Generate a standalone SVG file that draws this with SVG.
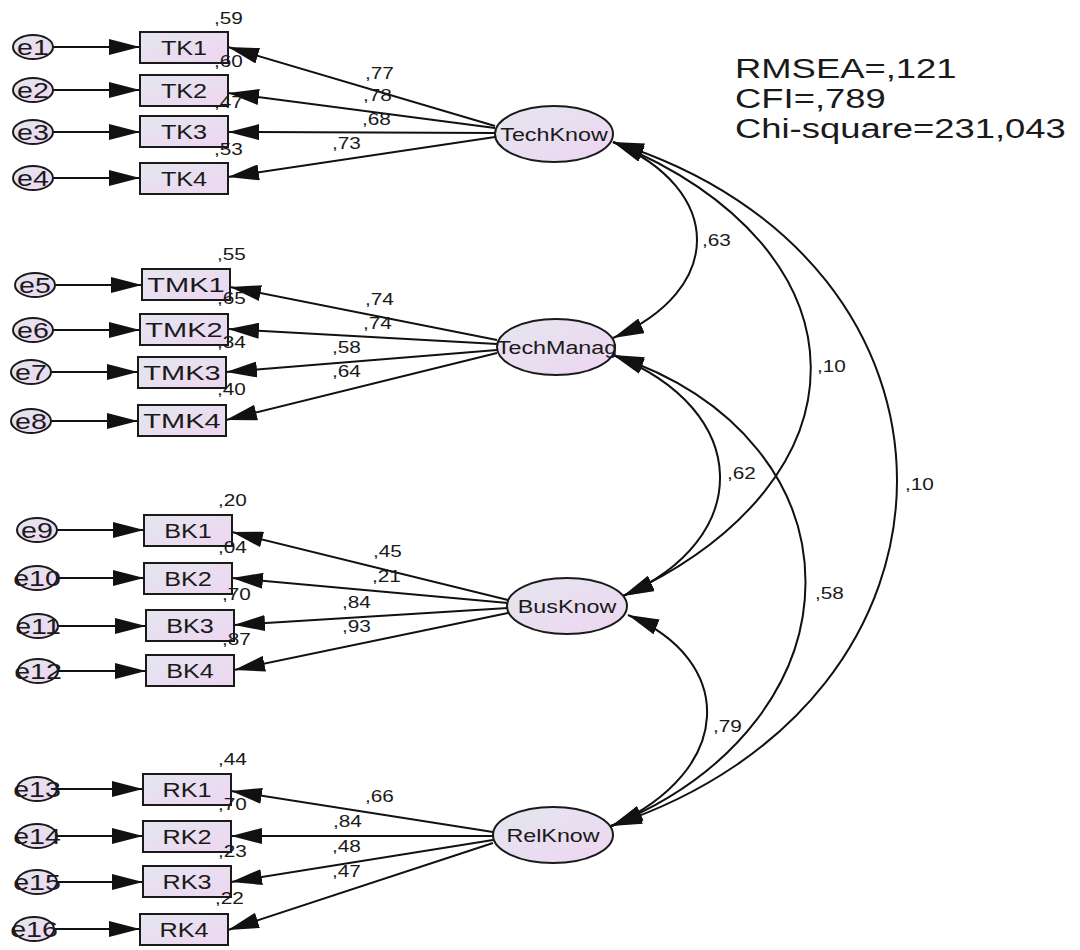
<svg xmlns="http://www.w3.org/2000/svg" width="1080" height="950" viewBox="0 0 1080 950">
  <defs>
    <linearGradient id="g" x1="0" y1="0" x2="1" y2="1">
      <stop offset="0" stop-color="#e4e6ef"/>
      <stop offset="1" stop-color="#eed6f1"/>
    </linearGradient>
    <marker id="ah" markerUnits="userSpaceOnUse" viewBox="0 0 31 16" markerWidth="31" markerHeight="16" refX="31" refY="8" orient="auto-start-reverse">
      <path d="M0,0 L31,8 L0,16 z" fill="#111"/>
    </marker>
    <style>
      .n rect, .n ellipse { fill: url(#g); stroke: #1a1a1a; stroke-width: 2; }
      .c line, .c path { stroke: #111; stroke-width: 2; fill: none; marker-end: url(#ah); }
      .c .cov { marker-start: url(#ah); }
      text { font-family: "Liberation Sans", Arial, sans-serif; fill: #1a1a1a; }
      .num { font-size: 16.5px; }
      .bx { font-size: 21px; text-anchor: middle; }
      .er { font-size: 22px; text-anchor: middle; }
      .lv { font-size: 18.5px; text-anchor: middle; }
      .st { font-size: 28px; }
    </style>
  </defs>

  <!-- connectors: error terms, loadings, covariances -->
  <g id="connectors" class="c">
    <line x1="53" y1="47" x2="140" y2="47"/>
    <line x1="53" y1="90" x2="140" y2="90"/>
    <line x1="53" y1="132" x2="140" y2="132"/>
    <line x1="53" y1="178" x2="140" y2="178"/>
    <line x1="55" y1="285" x2="142" y2="285"/>
    <line x1="53" y1="330" x2="140" y2="330"/>
    <line x1="51" y1="372" x2="138" y2="372"/>
    <line x1="51" y1="421" x2="138" y2="421"/>
    <line x1="57" y1="530" x2="144" y2="530"/>
    <line x1="57" y1="578" x2="144" y2="578"/>
    <line x1="58" y1="626" x2="146" y2="626"/>
    <line x1="58" y1="671" x2="146" y2="671"/>
    <line x1="57" y1="789" x2="143" y2="789"/>
    <line x1="57" y1="836" x2="143" y2="836"/>
    <line x1="57" y1="882" x2="143" y2="882"/>
    <line x1="54" y1="929" x2="140" y2="929"/>

    <line x1="495" y1="126" x2="228" y2="47"/>
    <line x1="495" y1="128" x2="228" y2="93"/>
    <line x1="495" y1="133" x2="228" y2="132"/>
    <line x1="495" y1="137" x2="228" y2="177"/>
    <line x1="497" y1="340" x2="230" y2="287"/>
    <line x1="497" y1="344" x2="228" y2="329"/>
    <line x1="497" y1="350" x2="226" y2="372"/>
    <line x1="497" y1="353" x2="226" y2="420"/>
    <line x1="508" y1="600" x2="232" y2="532"/>
    <line x1="508" y1="603" x2="232" y2="578"/>
    <line x1="508" y1="608" x2="234" y2="625"/>
    <line x1="508" y1="613" x2="234" y2="670"/>
    <line x1="493" y1="832" x2="231" y2="791"/>
    <line x1="493" y1="836" x2="231" y2="836"/>
    <line x1="493" y1="840" x2="231" y2="882"/>
    <line x1="493" y1="843" x2="228" y2="930"/>

    <path class="cov" d="M613,142 C725,190 725,290 613,338"/>
    <path class="cov" d="M613,142 C875,250 875,480 623,596"/>
    <path class="cov" d="M613,142 C992,260 992,700 611,826"/>
    <path class="cov" d="M613,355 C754,410 754,540 623,596"/>
    <path class="cov" d="M613,355 C870,440 870,720 611,826"/>
    <path class="cov" d="M628,615 C736,660 736,770 612,826"/>
  </g>

  <!-- covariance and loading estimates -->
  <g id="estimates" class="num">
    <text transform="matrix(1.26 0 0 1 365 79)">,77</text>
    <text transform="matrix(1.26 0 0 1 363 101)">,78</text>
    <text transform="matrix(1.26 0 0 1 362 125)">,68</text>
    <text transform="matrix(1.26 0 0 1 332 149)">,73</text>
    <text transform="matrix(1.26 0 0 1 365 305)">,74</text>
    <text transform="matrix(1.26 0 0 1 363 329)">,74</text>
    <text transform="matrix(1.26 0 0 1 332 353)">,58</text>
    <text transform="matrix(1.26 0 0 1 332 377)">,64</text>
    <text transform="matrix(1.26 0 0 1 373 557)">,45</text>
    <text transform="matrix(1.26 0 0 1 372 582)">,21</text>
    <text transform="matrix(1.26 0 0 1 342 608)">,84</text>
    <text transform="matrix(1.26 0 0 1 342 632)">,93</text>
    <text transform="matrix(1.26 0 0 1 365 802)">,66</text>
    <text transform="matrix(1.26 0 0 1 333 827)">,84</text>
    <text transform="matrix(1.26 0 0 1 332 852)">,48</text>
    <text transform="matrix(1.26 0 0 1 332 877)">,47</text>

    <text transform="matrix(1.26 0 0 1 702 246)">,63</text>
    <text transform="matrix(1.26 0 0 1 817 372)">,10</text>
    <text transform="matrix(1.26 0 0 1 905 490)">,10</text>
    <text transform="matrix(1.26 0 0 1 727 479)">,62</text>
    <text transform="matrix(1.26 0 0 1 815 599)">,58</text>
    <text transform="matrix(1.26 0 0 1 713 732)">,79</text>
  </g>

  <!-- error terms -->
  <g id="e1" class="n"><ellipse cx="33" cy="47" rx="20" ry="12"/><text class="er" transform="matrix(1.3 0 0 1 33 55)">e1</text></g>
  <g id="e2" class="n"><ellipse cx="33" cy="90" rx="20" ry="12"/><text class="er" transform="matrix(1.3 0 0 1 33 98)">e2</text></g>
  <g id="e3" class="n"><ellipse cx="33" cy="132" rx="20" ry="12"/><text class="er" transform="matrix(1.3 0 0 1 33 140)">e3</text></g>
  <g id="e4" class="n"><ellipse cx="33" cy="178" rx="20" ry="12"/><text class="er" transform="matrix(1.3 0 0 1 33 186)">e4</text></g>
  <g id="e5" class="n"><ellipse cx="35" cy="285" rx="20" ry="12"/><text class="er" transform="matrix(1.3 0 0 1 35 293)">e5</text></g>
  <g id="e6" class="n"><ellipse cx="33" cy="330" rx="20" ry="12"/><text class="er" transform="matrix(1.3 0 0 1 33 338)">e6</text></g>
  <g id="e7" class="n"><ellipse cx="31" cy="372" rx="20" ry="12"/><text class="er" transform="matrix(1.3 0 0 1 31 380)">e7</text></g>
  <g id="e8" class="n"><ellipse cx="31" cy="421" rx="20" ry="12"/><text class="er" transform="matrix(1.3 0 0 1 31 429)">e8</text></g>
  <g id="e9" class="n"><ellipse cx="37" cy="530" rx="20" ry="12"/><text class="er" transform="matrix(1.3 0 0 1 37 538)">e9</text></g>
  <g id="e10" class="n"><ellipse cx="37" cy="578" rx="20" ry="12"/><text class="er" transform="matrix(1.3 0 0 1 37 586)">e10</text></g>
  <g id="e11" class="n"><ellipse cx="38" cy="626" rx="20" ry="12"/><text class="er" transform="matrix(1.3 0 0 1 38 634)">e11</text></g>
  <g id="e12" class="n"><ellipse cx="38" cy="671" rx="20" ry="12"/><text class="er" transform="matrix(1.3 0 0 1 38 679)">e12</text></g>
  <g id="e13" class="n"><ellipse cx="37" cy="789" rx="20" ry="12"/><text class="er" transform="matrix(1.3 0 0 1 37 797)">e13</text></g>
  <g id="e14" class="n"><ellipse cx="37" cy="836" rx="20" ry="12"/><text class="er" transform="matrix(1.3 0 0 1 37 844)">e14</text></g>
  <g id="e15" class="n"><ellipse cx="37" cy="882" rx="20" ry="12"/><text class="er" transform="matrix(1.3 0 0 1 37 890)">e15</text></g>
  <g id="e16" class="n"><ellipse cx="34" cy="929" rx="20" ry="12"/><text class="er" transform="matrix(1.3 0 0 1 34 937)">e16</text></g>

  <!-- observed indicators -->
  <g id="TK1" class="n"><rect x="140" y="32" width="88" height="31"/><text class="bx" transform="matrix(1.2 0 0 1 184 55)">TK1</text><text class="num" transform="matrix(1.26 0 0 1 214 24)">,59</text></g>
  <g id="TK2" class="n"><rect x="140" y="75" width="88" height="31"/><text class="bx" transform="matrix(1.2 0 0 1 184 98)">TK2</text><text class="num" transform="matrix(1.26 0 0 1 214 67)">,60</text></g>
  <g id="TK3" class="n"><rect x="140" y="116" width="88" height="31"/><text class="bx" transform="matrix(1.2 0 0 1 184 139)">TK3</text><text class="num" transform="matrix(1.26 0 0 1 214 108)">,47</text></g>
  <g id="TK4" class="n"><rect x="140" y="163" width="88" height="31"/><text class="bx" transform="matrix(1.2 0 0 1 184 186)">TK4</text><text class="num" transform="matrix(1.26 0 0 1 214 155)">,53</text></g>

  <g id="TMK1" class="n"><rect x="142" y="269" width="88" height="31"/><text class="bx" transform="matrix(1.38 0 0 1 186 292)">TMK1</text><text class="num" transform="matrix(1.26 0 0 1 217 260)">,55</text></g>
  <g id="TMK2" class="n"><rect x="140" y="314" width="88" height="31"/><text class="bx" transform="matrix(1.38 0 0 1 184 337)">TMK2</text><text class="num" transform="matrix(1.26 0 0 1 217 304)">,65</text></g>
  <g id="TMK3" class="n"><rect x="138" y="357" width="88" height="31"/><text class="bx" transform="matrix(1.38 0 0 1 182 380)">TMK3</text><text class="num" transform="matrix(1.26 0 0 1 217 348)">,34</text></g>
  <g id="TMK4" class="n"><rect x="138" y="405" width="88" height="31"/><text class="bx" transform="matrix(1.38 0 0 1 182 428)">TMK4</text><text class="num" transform="matrix(1.26 0 0 1 217 395)">,40</text></g>

  <g id="BK1" class="n"><rect x="144" y="515" width="88" height="31"/><text class="bx" transform="matrix(1.2 0 0 1 188 538)">BK1</text><text class="num" transform="matrix(1.26 0 0 1 218 506)">,20</text></g>
  <g id="BK2" class="n"><rect x="144" y="563" width="88" height="31"/><text class="bx" transform="matrix(1.2 0 0 1 188 586)">BK2</text><text class="num" transform="matrix(1.26 0 0 1 218 553)">,04</text></g>
  <g id="BK3" class="n"><rect x="146" y="610" width="88" height="31"/><text class="bx" transform="matrix(1.2 0 0 1 190 633)">BK3</text><text class="num" transform="matrix(1.26 0 0 1 222 600)">,70</text></g>
  <g id="BK4" class="n"><rect x="146" y="655" width="88" height="31"/><text class="bx" transform="matrix(1.2 0 0 1 190 678)">BK4</text><text class="num" transform="matrix(1.26 0 0 1 222 645)">,87</text></g>

  <g id="RK1" class="n"><rect x="143" y="774" width="88" height="31"/><text class="bx" transform="matrix(1.2 0 0 1 187 797)">RK1</text><text class="num" transform="matrix(1.26 0 0 1 218 765)">,44</text></g>
  <g id="RK2" class="n"><rect x="143" y="821" width="88" height="31"/><text class="bx" transform="matrix(1.2 0 0 1 187 844)">RK2</text><text class="num" transform="matrix(1.26 0 0 1 218 810)">,70</text></g>
  <g id="RK3" class="n"><rect x="143" y="866" width="88" height="31"/><text class="bx" transform="matrix(1.2 0 0 1 187 889)">RK3</text><text class="num" transform="matrix(1.26 0 0 1 218 857)">,23</text></g>
  <g id="RK4" class="n"><rect x="140" y="914" width="88" height="31"/><text class="bx" transform="matrix(1.2 0 0 1 184 937)">RK4</text><text class="num" transform="matrix(1.26 0 0 1 215 904)">,22</text></g>

  <!-- latent constructs -->
  <g id="TechKnow" class="n"><ellipse cx="554" cy="134" rx="59" ry="28"/><text class="lv" transform="matrix(1.26 0 0 1 554 140.5)">TechKnow</text></g>
  <g id="TechManag" class="n"><ellipse cx="556" cy="347" rx="59" ry="28"/><text class="lv" transform="matrix(1.26 0 0 1 557 353.5)">TechManag</text></g>
  <g id="BusKnow" class="n"><ellipse cx="567" cy="606" rx="60" ry="28"/><text class="lv" transform="matrix(1.26 0 0 1 567 612.5)">BusKnow</text></g>
  <g id="RelKnow" class="n"><ellipse cx="553" cy="835" rx="60" ry="28"/><text class="lv" transform="matrix(1.26 0 0 1 553 841.5)">RelKnow</text></g>

  <!-- fit indices -->
  <g id="fit" class="st">
    <text transform="matrix(1.3 0 0 1 735 78)">RMSEA=,121</text>
    <text transform="matrix(1.3 0 0 1 735 108)">CFI=,789</text>
    <text transform="matrix(1.3 0 0 1 735 138)">Chi-square=231,043</text>
  </g>
</svg>
